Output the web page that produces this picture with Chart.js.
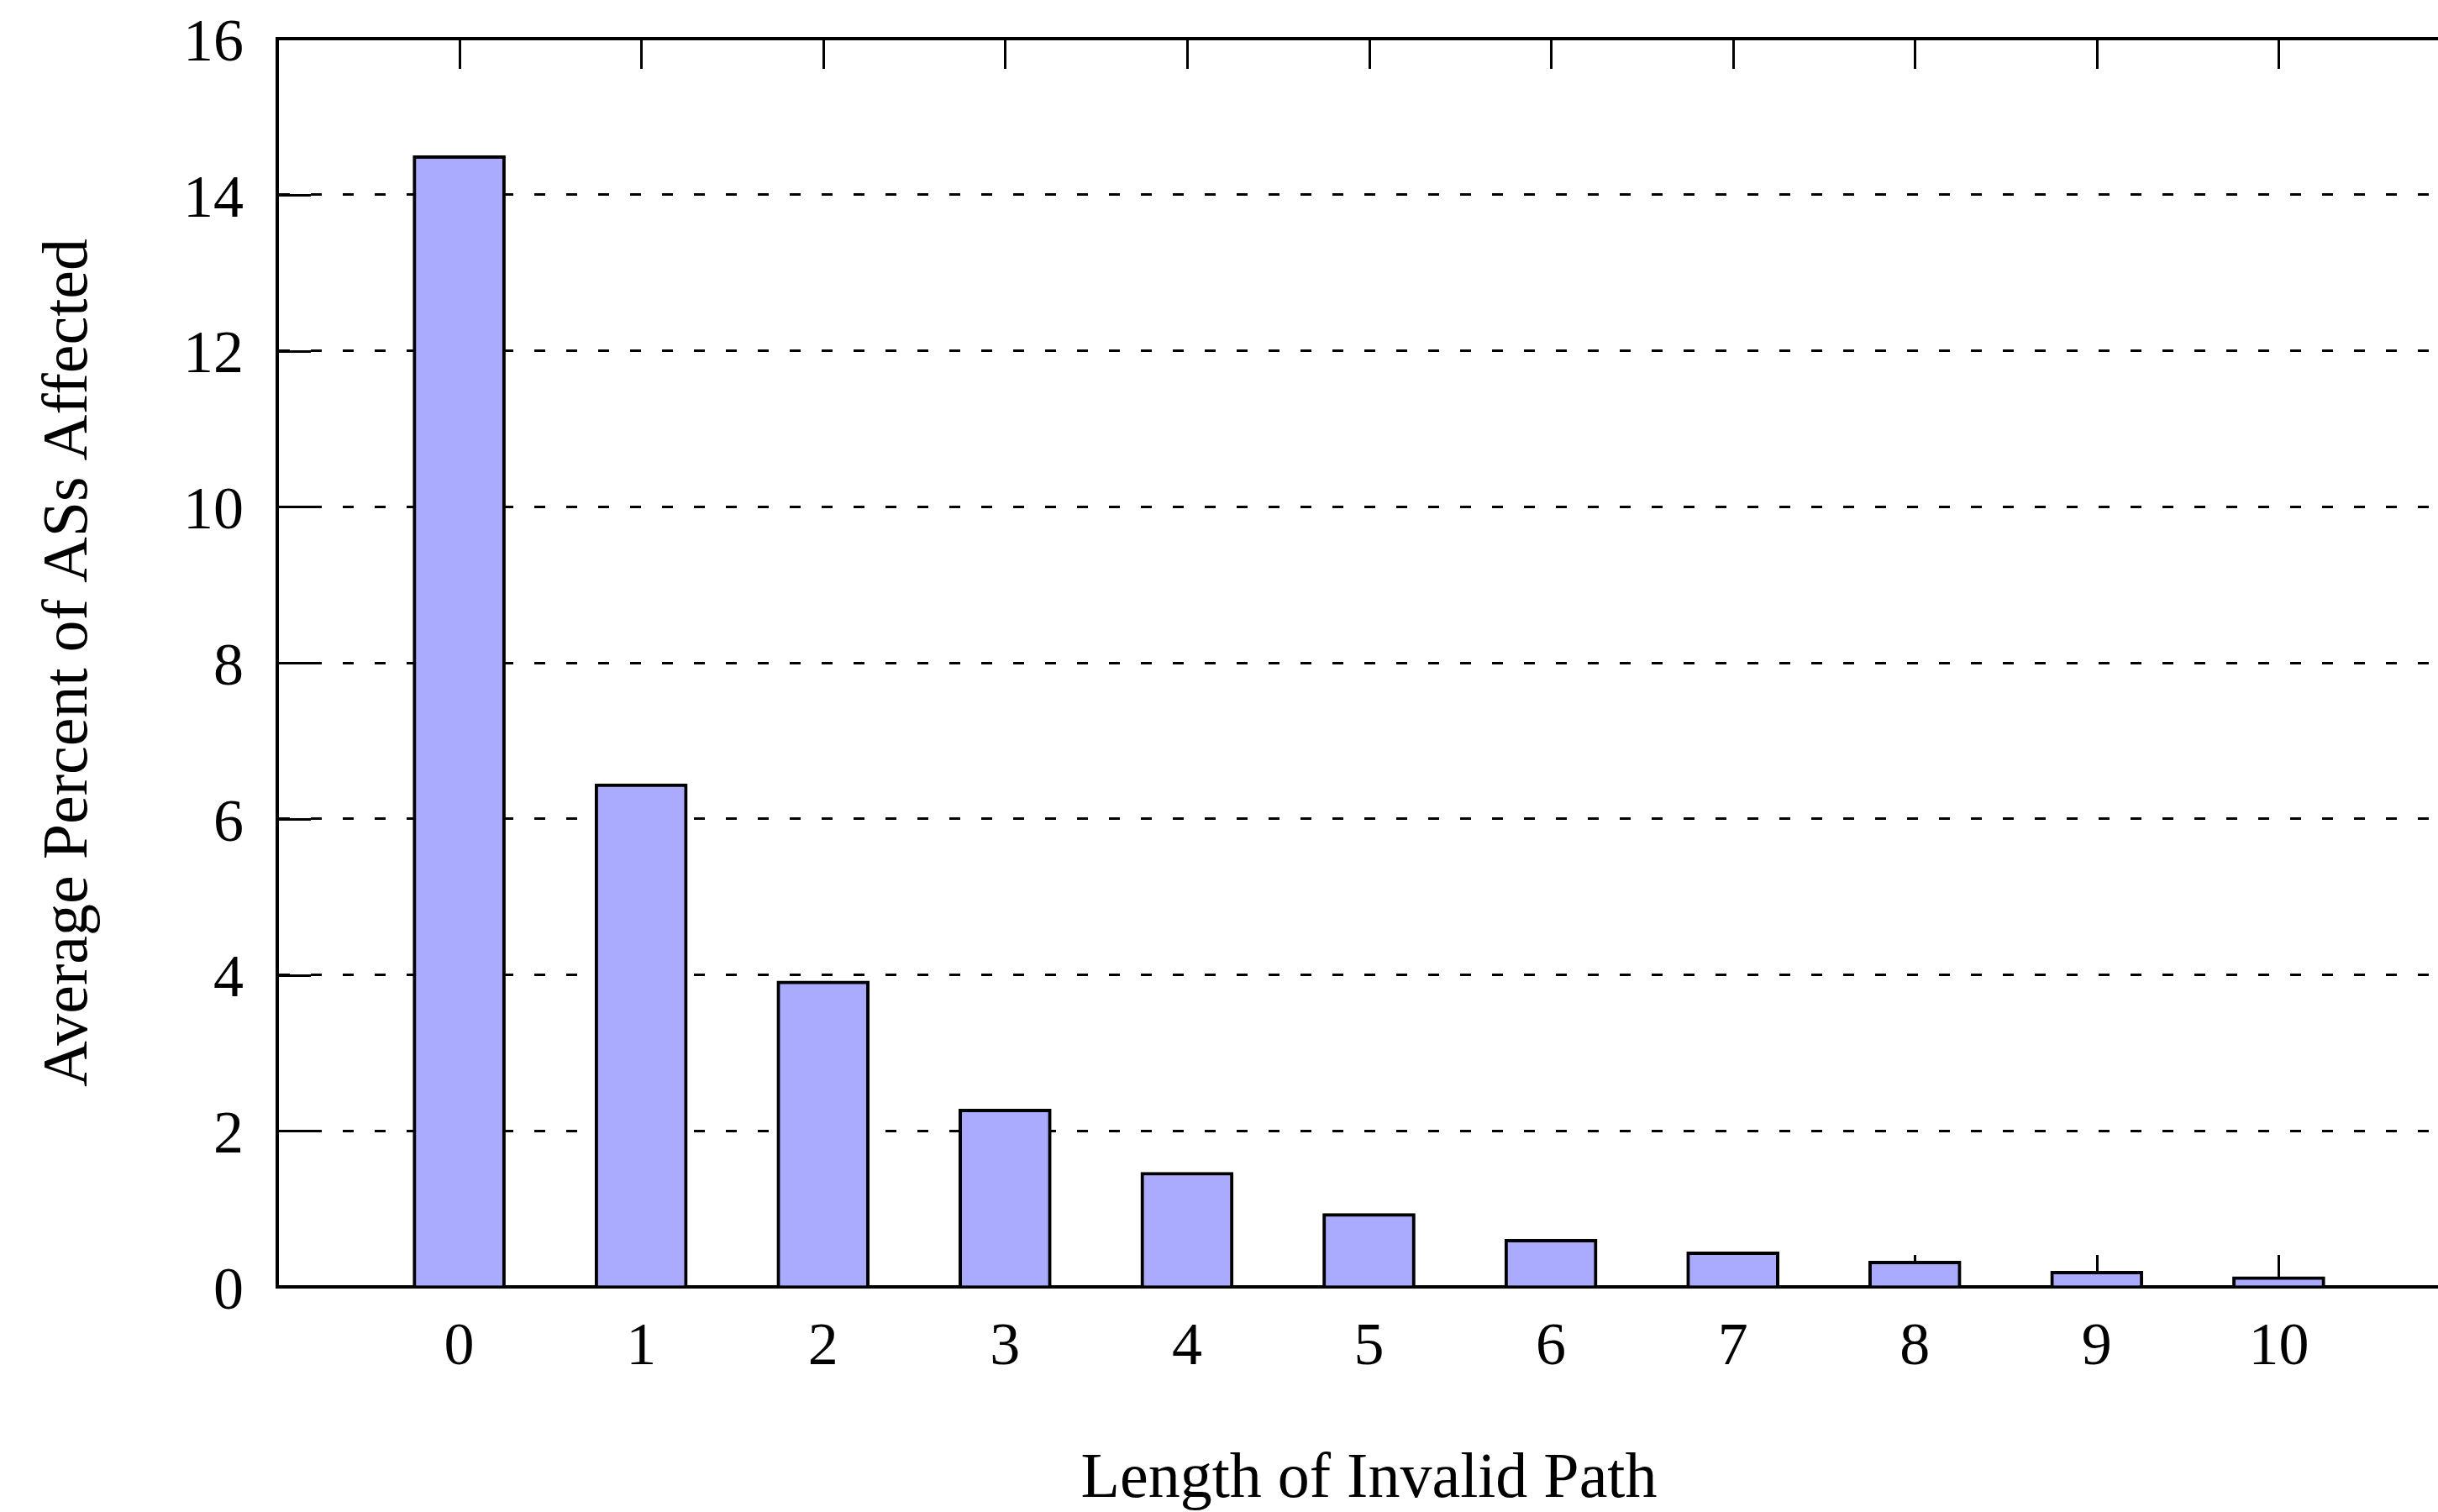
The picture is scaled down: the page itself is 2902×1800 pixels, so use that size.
<!DOCTYPE html>
<html><head><meta charset="utf-8">
<script src="https://cdn.jsdelivr.net/npm/chart.js"></script>
<style>
html,body{margin:0;padding:0;background:#fff;overflow:hidden;width:2902px;height:1800px}
#wrap{position:absolute;left:0;top:0;width:2940px;height:1800px}
canvas{display:block}
</style></head>
<body><div id="wrap"><canvas id="c" width="2940" height="1800" style="width:2940px;height:1800px"></canvas></div>
<script>
const categories = [0, 1, 2, 3, 4, 5, 6, 7, 8, 9, 10];
const values = [14.5, 6.45, 3.92, 2.28, 1.47, 0.94, 0.61, 0.45, 0.33, 0.2, 0.13];
const yTickStep = 2;
const yMin = 0, yMax = 16;
const xMin = -1, xMax = 11;
const xTitle = 'Length of Invalid Path';
const yTitle = 'Average Percent of ASs Affected';

const FONT = "'Liberation Serif', 'Times New Roman', serif";

function noPad(s) { s.paddingTop = 0; s.paddingBottom = 0; s.paddingLeft = 0; s.paddingRight = 0; }

const inwardTicks = {
  id: 'inwardTicks',
  beforeDatasetsDraw(chart) {
    const {ctx, chartArea: a} = chart;
    const xs = chart.scales.x, ys = chart.scales.y;
    ctx.save();
    ctx.strokeStyle = '#000';
    ctx.lineWidth = 3;
    ctx.beginPath();
    categories.forEach(c => {
      const px = Math.round(xs.getPixelForValue(c)) + 0.5;
      ctx.moveTo(px, a.bottom); ctx.lineTo(px, a.bottom - 38);
      ctx.moveTo(px, a.top); ctx.lineTo(px, a.top + 36);
    });
    ys.ticks.forEach(t => {
      const py = Math.round(ys.getPixelForValue(t.value)) + 0.5;
      ctx.moveTo(a.left, py); ctx.lineTo(a.left + 40, py);
    });
    ctx.stroke();
    ctx.restore();
  }
};

new Chart(document.getElementById('c'), {
  type: 'bar',
  data: {
    datasets: [{
      data: categories.map((c, i) => ({x: c, y: values[i]})),
      backgroundColor: '#aaaaff',
      borderColor: '#000',
      borderWidth: 4,
      barThickness: 110
    }]
  },
  plugins: [inwardTicks],
  options: {
    responsive: false,
    animation: false,
    devicePixelRatio: 1,
    layout: {padding: {top: 46, right: 11, bottom: 0, left: 0}},
    plugins: {legend: {display: false}, tooltip: {enabled: false}},
    scales: {
      x: {
        type: 'linear', position: 'bottom', min: xMin, max: xMax, offset: false,
        afterFit(s) { s.height = 268; noPad(s); },
        ticks: {
          stepSize: 1, autoSkip: false, maxRotation: 0, padding: 30,
          color: '#000', font: {family: FONT, size: 72},
          callback: v => (categories.includes(v) ? String(v) : '')
        },
        grid: {display: false, drawTicks: false},
        border: {display: true, color: '#000', width: 4},
        title: {display: true, text: xTitle, color: '#000',
          font: {family: FONT, size: 76, lineHeight: 1.0}, padding: {top: 0, bottom: 0}}
      },
      xTop: {
        type: 'linear', position: 'top', min: xMin, max: xMax, offset: false,
        afterFit(s) { s.height = 0; noPad(s); },
        ticks: {display: false},
        grid: {display: false, drawTicks: false},
        border: {display: true, color: '#000', width: 4}
      },
      y: {
        type: 'linear', min: yMin, max: yMax,
        afterFit(s) { s.width = 330; noPad(s); },
        ticks: {stepSize: yTickStep, padding: 40, labelOffset: 7, color: '#000', font: {family: FONT, size: 72}},
        grid: {display: true, drawTicks: false, color: '#000', lineWidth: 3},
        border: {display: true, color: '#000', width: 4, dash: [13, 25]},
        title: {display: true, text: yTitle, color: '#000',
          font: {family: FONT, size: 76, lineHeight: 1.08}, padding: {top: 42, bottom: 0}}
      }
    }
  }
});
</script>
</body></html>
